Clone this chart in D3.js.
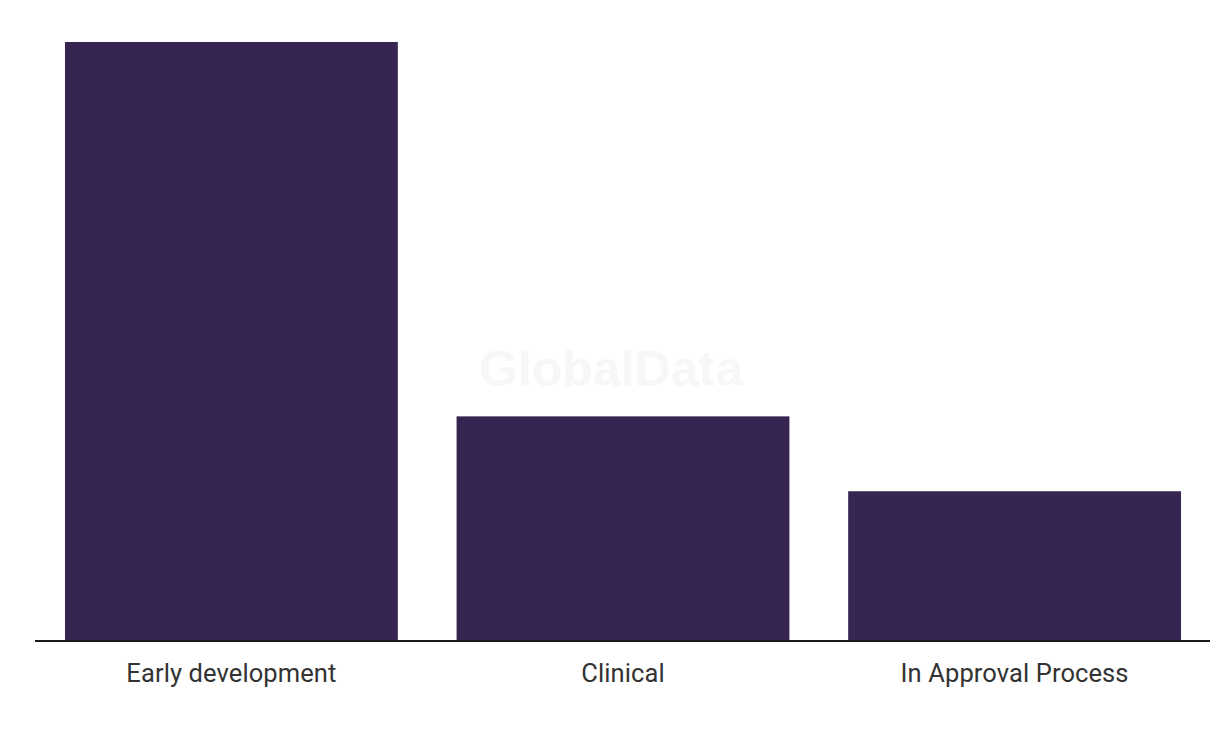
<!DOCTYPE html>
<html>
<head>
<meta charset="utf-8">
<script src="https://cdn.jsdelivr.net/npm/d3@7"></script>
<style>
html,body{margin:0;padding:0;background:#fff;}
svg{display:block;}
</style>
</head>
<body>
<svg id="chart" width="1220" height="736"></svg>
<script>
const categories = ["Early development", "Clinical", "In Approval Process"];
const values = [8, 3, 2];

const svg = d3.select("#chart");
const x = d3.scaleBand().domain(categories).range([36, 1210]).paddingInner(0.15).paddingOuter(0.074);
const y = d3.scaleLinear().domain([0, 8]).range([641, 42]);

svg.append("text")
  .attr("x", 611).attr("y", 386)
  .attr("text-anchor", "middle")
  .attr("font-family", "Liberation Sans, Arial, sans-serif")
  .attr("font-weight", "bold")
  .attr("font-size", 50)
  .attr("fill", "#f7f7f7")
  .text("GlobalData");

svg.selectAll("rect.bar").data(categories).enter().append("rect")
  .attr("class", "bar")
  .attr("x", d => x(d))
  .attr("width", x.bandwidth())
  .attr("y", (d, i) => y(values[i]))
  .attr("height", (d, i) => y(0) - y(values[i]))
  .attr("fill", "#362551");

const axis = svg.append("g").attr("transform", "translate(0,641)")
  .call(d3.axisBottom(x).tickSize(0).tickPadding(23));
axis.select(".domain").attr("stroke", "#1a1a1a").attr("stroke-width", 2).attr("d", "M35,0H1210");
axis.selectAll("text")
  .attr("font-family", "Roboto, 'Noto Sans', sans-serif")
  .attr("font-size", 25.5)
  .attr("fill", "#333")
  .attr("letter-spacing", "0.1px");
</script>
</body>
</html>
